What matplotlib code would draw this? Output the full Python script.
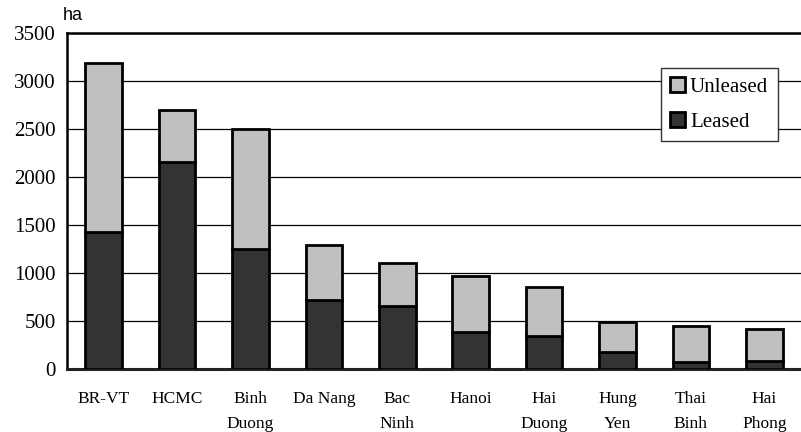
import matplotlib
matplotlib.use("Agg")
import matplotlib.pyplot as plt
import numpy as np

categories = ["BR-VT", "HCMC", "Binh\nDuong", "Da Nang", "Bac\nNinh", "Hanoi",
              "Hai\nDuong", "Hung\nYen", "Thai\nBinh", "Hai\nPhong"]
leased = [1430, 2160, 1250, 720, 660, 390, 345, 180, 70, 85]
total = [3190, 2700, 2500, 1290, 1100, 970, 855, 490, 445, 420]
unleased = [t - l for t, l in zip(total, leased)]
yticks = [0, 500, 1000, 1500, 2000, 2500, 3000, 3500]

serif = "Liberation Serif"

fig = plt.figure(figsize=(8.01, 4.32), dpi=100)
ax = fig.add_axes([0.0836, 0.1458, 0.9164, 0.7778])

x = np.arange(len(categories))
ax.bar(x, leased, width=0.5, color="#333333", edgecolor="black", linewidth=2,
       label="Leased", zorder=3)
ax.bar(x, unleased, bottom=leased, width=0.5, color="#c0c0c0", edgecolor="black",
       linewidth=2, label="Unleased", zorder=3)

ax.set_xlim(-0.5, len(categories) - 0.5)
ax.set_ylim(0, 3500)
ax.set_yticks(yticks)
ax.set_yticklabels([str(v) for v in yticks], fontfamily=serif, fontsize=15)
ax.set_xticks(x)
ax.set_xticklabels(categories, fontfamily=serif, fontsize=12.5, linespacing=1.75,
                   va="top")
ax.tick_params(axis="both", length=0)
ax.tick_params(axis="x", pad=16)
ax.tick_params(axis="y", pad=8)
ax.yaxis.grid(True, color="black", linewidth=0.9, zorder=0)
ax.set_axisbelow(True)

ax.spines["right"].set_visible(False)
ax.spines["left"].set_linewidth(1.8)
ax.spines["top"].set_linewidth(1.8)
ax.spines["bottom"].set_linewidth(2.2)
ax.spines["bottom"].set_color("#222222")

handles, labels = ax.get_legend_handles_labels()
leg = ax.legend(handles[::-1], labels[::-1], loc="upper right",
                bbox_to_anchor=(0.968, 0.897), prop={"family": serif, "size": 15},
                handlelength=0.7, handleheight=0.7, handletextpad=0.25,
                labelspacing=0.75, borderpad=0.45, borderaxespad=0,
                fancybox=False, edgecolor="#333333", framealpha=1)
leg.get_frame().set_linewidth(1.0)

fig.text(0.078, 0.945, "ha", fontfamily="Liberation Sans", fontsize=13,
         va="bottom", ha="left")

fig.savefig("out.png", dpi=100)
